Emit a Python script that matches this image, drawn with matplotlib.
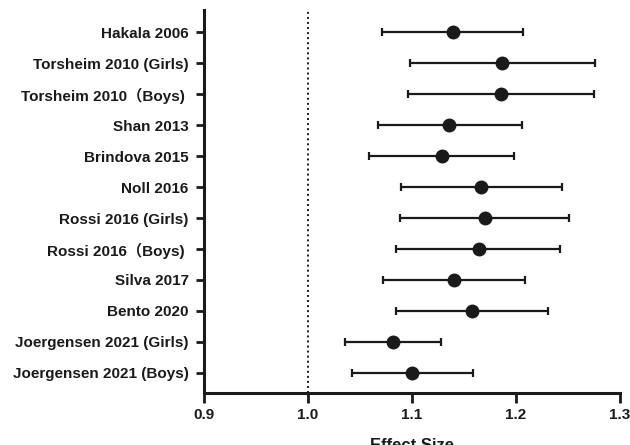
import matplotlib
matplotlib.use("Agg")
import matplotlib.pyplot as plt

studies = [
    "Hakala 2006",
    "Torsheim 2010 (Girls)",
    "Torsheim 2010\uff08Boys) ",
    "Shan 2013",
    "Brindova 2015",
    "Noll 2016",
    "Rossi 2016 (Girls)",
    "Rossi 2016\uff08Boys) ",
    "Silva 2017",
    "Bento 2020",
    "Joergensen 2021 (Girls)",
    "Joergensen 2021 (Boys)",
]
effect = [1.139, 1.187, 1.186, 1.136, 1.129, 1.166, 1.170, 1.164, 1.140, 1.158, 1.082, 1.100]
lower = [1.071, 1.098, 1.096, 1.067, 1.059, 1.089, 1.088, 1.085, 1.072, 1.085, 1.036, 1.042]
upper = [1.207, 1.276, 1.275, 1.206, 1.198, 1.244, 1.251, 1.242, 1.209, 1.231, 1.128, 1.159]
xticks = [0.9, 1.0, 1.1, 1.2, 1.3]

col = "#1a1a1a"
plt.rcParams["font.family"] = ["Liberation Sans", "Noto Sans CJK KR", "DejaVu Sans"]
plt.rcParams["font.weight"] = "bold"

fig = plt.figure(figsize=(6.3, 4.45), dpi=100)
ax = fig.add_axes([0.3238, 0.1169, 0.6603, 0.8606])

n = len(studies)
ypos = [n - i for i in range(n)]
xerr = [[e - l for e, l in zip(effect, lower)], [u - e for e, u in zip(effect, upper)]]

ax.axvline(1.0, color=col, linestyle=(0, (1, 1.6)), linewidth=1.4, zorder=1)
ax.errorbar(effect, ypos, xerr=xerr, fmt="o", color=col, ecolor=col,
            markersize=9, elinewidth=1.6, capsize=3, capthick=1.6, zorder=3)

ax.set_xlim(0.9, 1.3)
ax.set_ylim(0.35, 12.72)
ax.set_xticks(xticks)
ax.set_xticklabels([f"{t:.1f}" for t in xticks])
ax.set_yticks(ypos)
ax.set_yticklabels(studies)

for s in ["top", "right"]:
    ax.spines[s].set_visible(False)
for s in ["left", "bottom"]:
    ax.spines[s].set_linewidth(2.2)
    ax.spines[s].set_color(col)

ax.tick_params(axis="y", direction="out", length=6, width=2, color=col,
               labelsize=11, labelcolor=col, pad=5)
ax.tick_params(axis="x", direction="out", length=7, width=2, color=col,
               labelsize=11, labelcolor=col, pad=4)
for lbl in ax.get_yticklabels() + ax.get_xticklabels():
    lbl.set_fontweight("bold")

ax.set_xlabel("Effect Size", fontsize=12, fontweight="bold", color=col, labelpad=11)

fig.savefig("out.png", dpi=100)
